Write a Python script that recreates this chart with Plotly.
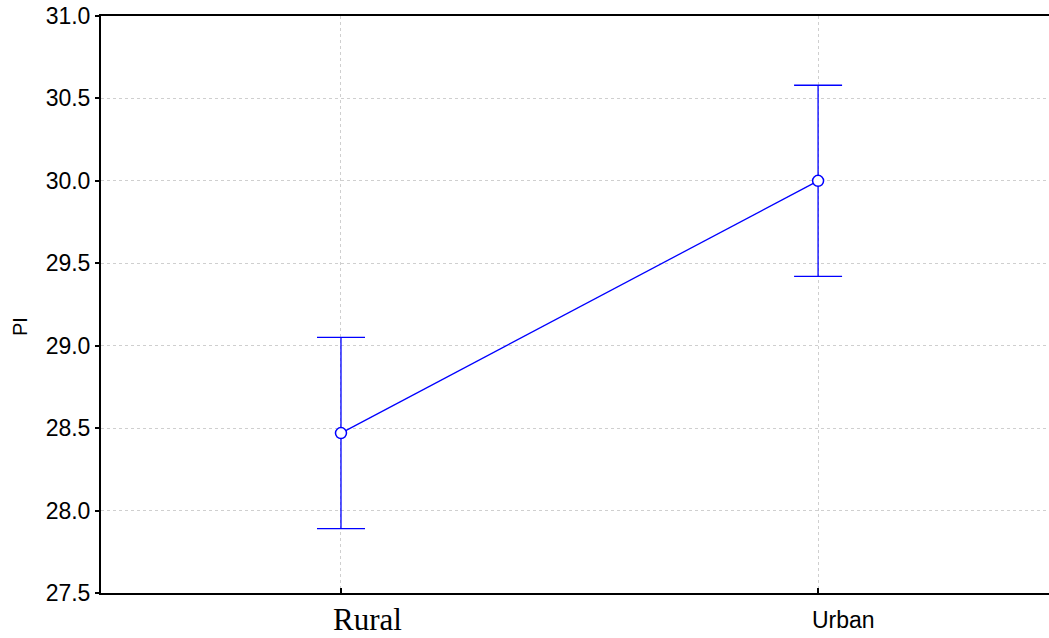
import plotly.graph_objects as go

categories = ["Rural", "Urban"]
means = [28.47, 30.00]
errors = [0.58, 0.58]
yticks = [27.5, 28.0, 28.5, 29.0, 29.5, 30.0, 30.5, 31.0]
y_title = "PI"

fig = go.Figure()
fig.add_trace(go.Scatter(
    x=[0, 1], y=means,
    mode="lines+markers",
    line=dict(color="#0000ff", width=1.3),
    marker=dict(symbol="circle", size=11, color="white",
                line=dict(color="#0000ff", width=1.5)),
    error_y=dict(type="data", array=errors, visible=True,
                 color="#0000ff", thickness=1.3, width=24),
    showlegend=False,
))

fig.update_layout(
    width=1049, height=638,
    margin=dict(l=101, r=0, t=16, b=45),
    paper_bgcolor="white", plot_bgcolor="white",
    font=dict(family="Arial, Liberation Sans", color="black", size=23),
    xaxis=dict(
        range=[-0.503, 1.484],
        tickvals=[0, 1], ticktext=["", ""],
        showline=True, linecolor="black", linewidth=2, mirror=True,
        ticks="inside", ticklen=5, tickcolor="black", tickwidth=1.5,
        showgrid=True, gridcolor="#cfcfcf", griddash="dot", gridwidth=1,
        zeroline=False,
    ),
    yaxis=dict(
        range=[27.5, 31.0],
        tickvals=yticks, tickformat=".1f",
        showline=True, linecolor="black", linewidth=2,
        ticks="outside", ticklen=4, tickcolor="black", tickwidth=1.5,
        showgrid=True, gridcolor="#cfcfcf", griddash="dot", gridwidth=1,
        zeroline=False,
        tickfont=dict(size=23, family="Arial, Liberation Sans"),
    ),
)

fig.add_annotation(x=0, y=0, xref="x", yref="paper", text=categories[0],
                   showarrow=False, yanchor="top", xanchor="center",
                   xshift=27, yshift=-8, borderpad=0,
                   font=dict(family="Liberation Serif, Times New Roman", size=31, color="black"))
fig.add_annotation(x=1, y=0, xref="x", yref="paper", text=categories[1],
                   showarrow=False, yanchor="top", xanchor="center",
                   xshift=25, yshift=-12,
                   font=dict(family="Arial, Liberation Sans", size=23, color="black"))
fig.add_annotation(x=0, y=0.461, xref="paper", yref="paper", text=y_title,
                   showarrow=False, textangle=-90, xanchor="center", yanchor="middle",
                   xshift=-81,
                   font=dict(family="Arial, Liberation Sans", size=20, color="black"))

fig.write_html("out.html")
